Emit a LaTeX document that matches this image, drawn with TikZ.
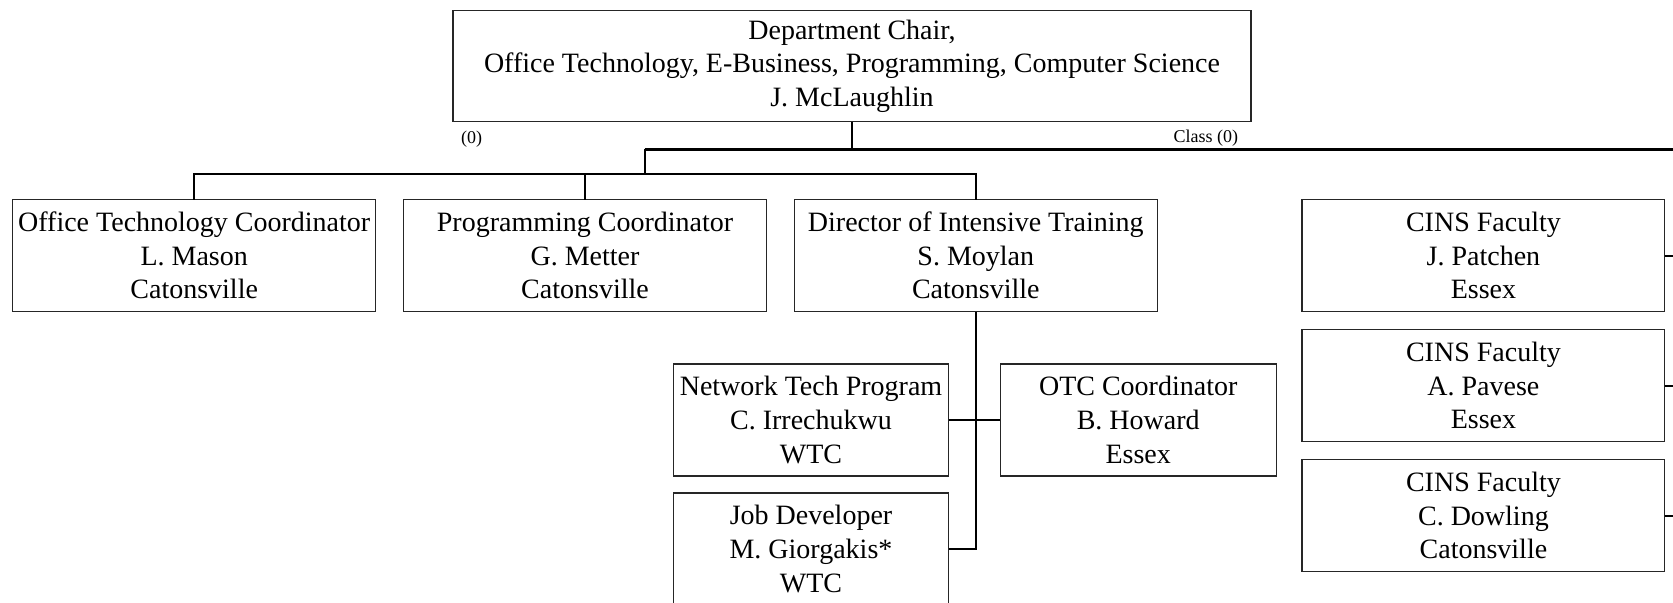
\documentclass[tikz,border=0pt]{standalone}
\usepackage{fontspec}
\setmainfont{Liberation Serif}
\usepackage{tikz}
\usetikzlibrary{positioning}
\tikzset{
  box/.style={
    rectangle, draw=black!85, line width=0.6pt, fill=white,
    minimum width=181.4pt, minimum height=56pt,
    inner sep=1pt, outer sep=0pt, align=center,
    font=\fontsize{14}{16.8}\selectfont
  },
  sbox/.style={box, minimum width=137.8pt},
  link/.style={line width=1.1pt, black},
  tag/.style={inner sep=0pt, outer sep=0pt, font=\fontsize{9}{10}\selectfont},
}
\begin{document}
\begin{tikzpicture}[node distance=9pt and 14pt]
  \useasboundingbox (0,0) rectangle (836.5pt,-301pt);

  % Chair
  \node[box, minimum width=399pt, minimum height=55.5pt] (chair) at (426pt,-33.1pt) {
    Department Chair,\\
    Office Technology, E-Business, Programming, Computer Science\\
    J. McLaughlin
  };
  \node[tag, below right=4.7pt and 4pt of chair.south west] (zerotag) {(0)};
  \node[tag, below left=4.3pt and 6.5pt of chair.south east] (classtag) {Class (0)};

  % Coordinators
  \node[box] (officeco) at (97.1pt,-127.8pt) {
    Office Technology Coordinator\\
    L. Mason\\
    Catonsville
  };
  \node[box, right=of officeco] (progco) {
    Programming Coordinator\\
    G. Metter\\
    Catonsville
  };
  \node[box, right=of progco] (director) {
    Director of Intensive Training\\
    S. Moylan\\
    Catonsville
  };

  % Under the director
  \node[sbox, below left=26.2pt and 13.5pt of director.south] (network) {
    Network Tech Program\\
    C. Irrechukwu\\
    WTC
  };
  \node[sbox, minimum width=138pt, right=25.7pt of network] (otc) {
    OTC Coordinator\\
    B. Howard\\
    Essex
  };
  \node[sbox, below=8.5pt of network] (jobdev) {
    Job Developer\\
    M. Giorgakis*\\
    WTC
  };

  % CINS faculty
  \node[box, right=72.4pt of director] (patchen) {
    CINS Faculty\\
    J. Patchen\\
    Essex
  };
  \node[box, below=of patchen] (pavese) {
    CINS Faculty\\
    A. Pavese\\
    Essex
  };
  \node[box, below=of pavese] (dowling) {
    CINS Faculty\\
    C. Dowling\\
    Catonsville
  };

  % Connectors
  \coordinate (bus) at (322.3pt,-74.7pt);
  \coordinate (busend) at (836.5pt,-74.7pt);
  \coordinate (rowbus) at (322.3pt,-87pt);
  \draw[link] (chair.south) -- (chair.south |- bus);
  \draw[link] (bus) -- (busend);
  \draw[link] (bus) -- (rowbus);
  \draw[link] (officeco.north) |- (rowbus) -| (director.north);
  \draw[link] (progco.north) -- (progco.north |- rowbus);
  \draw[link] (director.south) |- (jobdev.east);
  \draw[link] (network.east) -- (otc.west);
  \foreach \n in {patchen,pavese,dowling}
    \draw[link] (\n.east) -- (\n.east -| busend);

\end{tikzpicture}
\end{document}
